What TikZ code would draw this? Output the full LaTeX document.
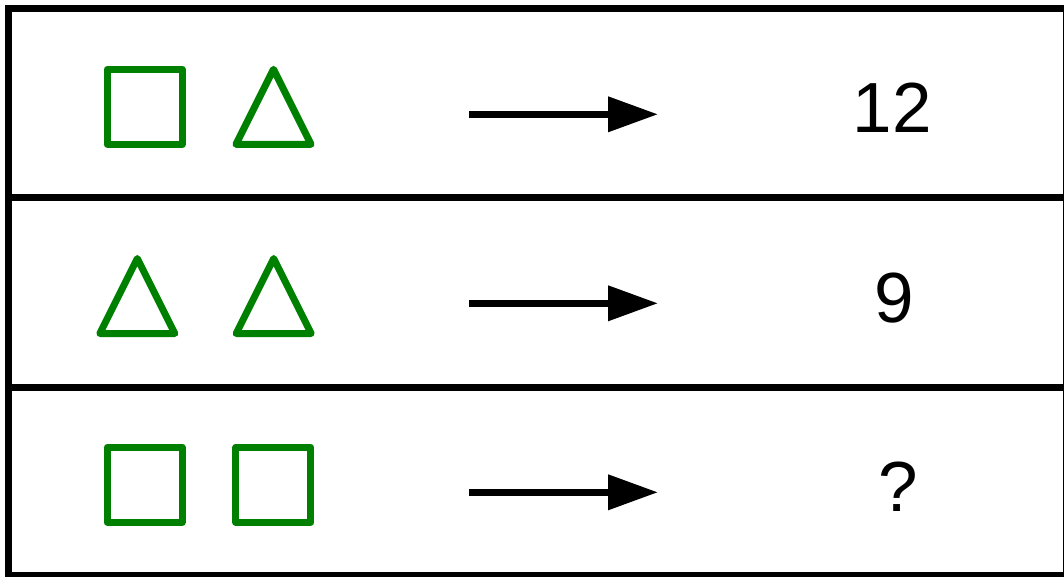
\documentclass[tikz,border=0pt]{standalone}
\usepackage{fontspec}
\setmainfont{Liberation Sans}
\usetikzlibrary{arrows.meta}

\definecolor{shapegreen}{RGB}{0,128,0}

\tikzset{
  frame/.style={line width=7pt},
  sq/.style={draw=shapegreen, line width=7pt, line join=round, inner sep=0pt, minimum size=75pt},
  tri/.style={draw=shapegreen, line width=7pt, line join=round},
  result/.style={font=\fontsize{71}{85}\selectfont, inner sep=0pt},
  maps/.style={line width=7pt, -{Triangle[length=50pt,width=34pt]}}
}

\begin{document}
\begin{tikzpicture}[x=1pt, y=-1pt]
    \useasboundingbox (0,0) rectangle (1064,576);
    % table
    \draw[frame] (8.5,8.5) rectangle (1066.8,575.5);
    \draw[frame] (8.5,197.7) -- (1066.8,197.7);
    \draw[frame] (8.5,387) -- (1066.8,387);

    % row 1
    \node[sq] (sqA) at (144.6,106.8) {};
    \draw[tri] (236,144.3) -- (311,144.3) -- (273.5,69.3) -- cycle;
    \coordinate (s1) at (469,114.3);
    \coordinate (e1) at (658,114.3);
    \draw[maps] (s1) -- (e1);
    \node[result] (r1) at (892,108) {12};

    % row 2
    \draw[tri] (99.8,333.5) -- (174.8,333.5) -- (137.3,258.5) -- cycle;
    \draw[tri] (236.2,333.5) -- (311.2,333.5) -- (273.7,258.5) -- cycle;
    \coordinate (s2) at (469,303.3);
    \coordinate (e2) at (658,303.3);
    \draw[maps] (s2) -- (e2);
    \node[result] (r2) at (894,298.5) {9};

    % row 3
    \node[sq] (sqB) at (144.6,484.7) {};
    \node[sq] (sqC) at (273.4,484.7) {};
    \coordinate (s3) at (469,492.3);
    \coordinate (e3) at (658,492.3);
    \draw[maps] (s3) -- (e3);
    \node[result] (r3) at (898,486.3) {?};
\end{tikzpicture}
\end{document}
